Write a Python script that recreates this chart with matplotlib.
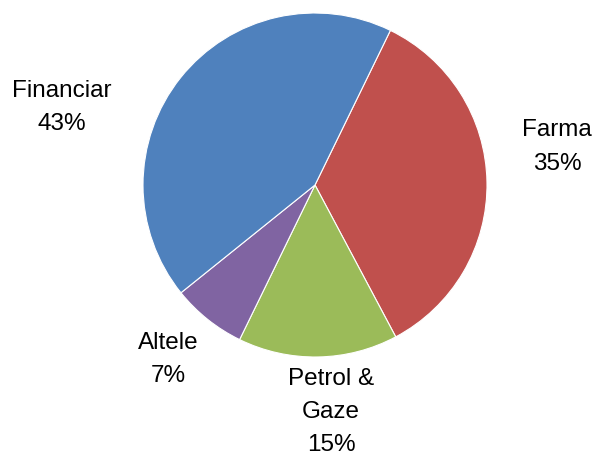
import matplotlib
matplotlib.use("Agg")
import matplotlib.pyplot as plt

# data, clockwise from the top-right boundary
labels = ["Farma", "Petrol &\nGaze", "Altele", "Financiar"]
shares = [35, 15, 7, 43]
colors = ["#C0504D", "#9BBB59", "#8064A2", "#4F81BD"]
# where each label sits (in pie radius units)
label_xy = [(1.407, 0.221), (0.093, -1.322), (-0.852, -1.012), (-1.471, 0.453)]

plt.rcParams["font.family"] = ["Liberation Sans", "DejaVu Sans"]

fig = plt.figure(figsize=(5.97, 4.57), dpi=100)
W, H = 597, 457
cx, cy, r = 315, 185, 172
ax = fig.add_axes([(cx - r) / W, (H - cy - r) / H, 2 * r / W, 2 * r / H])

ax.pie(shares, colors=colors, startangle=64, counterclock=False,
       radius=1, wedgeprops=dict(edgecolor="white", linewidth=0.8))
ax.set_xlim(-1, 1)
ax.set_ylim(-1, 1)
ax.set_aspect("equal")

for lab, val, (x, y) in zip(labels, shares, label_xy):
    ax.text(x, y, f"{lab}\n{val}%", ha="center", va="center",
            fontsize=17.5, color="black", linespacing=1.65, clip_on=False)

fig.savefig("out.png", dpi=100)
